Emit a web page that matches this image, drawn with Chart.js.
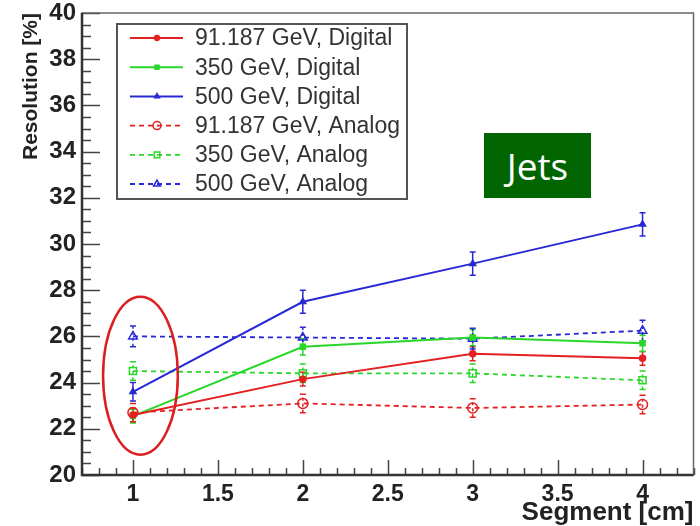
<!DOCTYPE html>
<html>
<head>
<meta charset="utf-8">
<script src="https://cdn.jsdelivr.net/npm/chart.js@4.4.1/dist/chart.umd.min.js"></script>
<style>
  html, body { margin: 0; padding: 0; background: #fff; }
  #wrap { position: relative; width: 700px; height: 526px; }
  #jets {
    position: absolute; left: 484px; top: 133px; width: 107px; height: 65px;
    background: #006400; color: #fff; font: 37px "Open Sans", sans-serif;
    display: flex; align-items: center; justify-content: center;
  }
</style>
</head>
<body>
<div id="wrap">
  <canvas id="chart1" width="700" height="526"></canvas>
  <div id="jets">Jets</div>
</div>
<script>
// segment length [cm]
const segments = [1, 2, 3, 4]

// resolution [%]
const red_digital   = [22.6, 24.15, 25.25, 25.05]
const green_digital = [22.55, 25.55, 25.95, 25.7]
const blue_digital  = [23.6, 27.5, 29.15, 30.85]
const red_analog    = [22.7, 23.1, 22.9, 23.05]
const green_analog  = [24.5, 24.4, 24.4, 24.1]
const blue_analog   = [26.0, 25.95, 25.9, 26.25]

// error bars
const red_digital_err   = [0.3, 0.3, 0.3, 0.3]
const green_digital_err = [0.3, 0.35, 0.35, 0.35]
const blue_digital_err  = [0.4, 0.5, 0.5, 0.5]
const red_analog_err    = [0.4, 0.4, 0.4, 0.4]
const green_analog_err  = [0.4, 0.4, 0.4, 0.4]
const blue_analog_err   = [0.45, 0.45, 0.45, 0.45]

const xTicks = [1, 1.5, 2, 2.5, 3, 3.5, 4]
const yTicks = [20, 22, 24, 26, 28, 30, 32, 34, 36, 38, 40]

// the red ring round segment 1 (centre, half widths, in axis units)
const ringX = 1.044, ringY = 24.3, ringRX = 0.22, ringRY = 3.42

const RED = 'rgb(228,32,32)', GREEN = 'rgb(40,215,40)', BLUE = 'rgb(40,40,215)'

function series(label, values, errors, color, style, radius, analog){
  return {
    label: label,
    data: values.map((v, i) => ({x: segments[i], y: v})),
    errors: errors,
    borderColor: color,
    borderWidth: analog ? 1.8 : 2,
    borderDash: analog ? [5, 4] : [],
    pointStyle: style,
    pointRadius: radius,
    pointBorderWidth: 1.5,
    pointBorderColor: color,
    pointBackgroundColor: analog ? 'rgba(0,0,0,0)' : color,
    analog: analog,
    tension: 0
  }
}

const datasets = [
  series('91.187 GeV, Digital', red_digital, red_digital_err, RED, 'circle', 3, false),
  series('350 GeV, Digital', green_digital, green_digital_err, GREEN, 'rect', 3.5, false),
  series('500 GeV, Digital', blue_digital, blue_digital_err, BLUE, 'triangle', 3.5, false),
  series('91.187 GeV, Analog', red_analog, red_analog_err, RED, 'circle', 5, true),
  series('350 GeV, Analog', green_analog, green_analog_err, GREEN, 'rect', 5, true),
  series('500 GeV, Analog', blue_analog, blue_analog_err, BLUE, 'triangle', 5, true)
]

// frame and inward ticks, ROOT style
const frame = {
  id: 'frame',
  beforeDatasetsDraw(chart){
    const {ctx, chartArea: a, scales: {x, y}} = chart
    ctx.save()
    ctx.strokeStyle = '#444'
    ctx.lineWidth = 1.5
    ctx.beginPath()
    for (let i = 40; i <= 80; i++){
      const p = Math.round(y.getPixelForValue(i / 2)) + 0.5
      const len = i % 4 == 0 ? 18 : 9
      ctx.moveTo(a.left, p); ctx.lineTo(a.left + len, p)
    }
    for (let i = 7; i <= 43; i++){
      const p = Math.round(x.getPixelForValue(i / 10)) + 0.5
      const len = i % 5 == 0 ? 15 : 7
      ctx.moveTo(p, a.bottom); ctx.lineTo(p, a.bottom - len)
    }
    ctx.stroke()

    // error bars
    chart.data.datasets.forEach((ds, k) => {
      ctx.strokeStyle = ds.borderColor
      ctx.lineWidth = 1.5
      ds.data.forEach((pt, j) => {
        const px = x.getPixelForValue(pt.x)
        const y1 = y.getPixelForValue(pt.y - ds.errors[j])
        const y2 = y.getPixelForValue(pt.y + ds.errors[j])
        ctx.setLineDash(ds.analog ? [3, 3] : [])
        ctx.beginPath()
        ctx.moveTo(px, y1); ctx.lineTo(px, y2)
        ctx.stroke()
        ctx.setLineDash([])
        ctx.beginPath()
        ctx.moveTo(px - 3, y1); ctx.lineTo(px + 3, y1)
        ctx.moveTo(px - 3, y2); ctx.lineTo(px + 3, y2)
        ctx.stroke()
      })
    })
    ctx.restore()
  },
  afterDatasetsDraw(chart){
    const {ctx, chartArea: a, scales: {x, y}} = chart
    ctx.save()
    // ring
    const cx = x.getPixelForValue(ringX), cy = y.getPixelForValue(ringY)
    const rx = x.getPixelForValue(ringX + ringRX) - cx
    const ry = cy - y.getPixelForValue(ringY + ringRY)
    ctx.strokeStyle = 'rgb(220,30,30)'
    ctx.lineWidth = 2.5
    ctx.beginPath()
    ctx.ellipse(cx, cy, rx, ry, 0, 0, Math.PI * 2)
    ctx.stroke()

    // axes frame
    ctx.strokeStyle = '#666'
    ctx.lineWidth = 1.5
    ctx.strokeRect(a.left, a.top, a.right - a.left, a.bottom - a.top)
    ctx.strokeStyle = '#333'
    ctx.lineWidth = 2.5
    ctx.beginPath()
    ctx.moveTo(a.left, a.top); ctx.lineTo(a.left, a.bottom); ctx.lineTo(a.right, a.bottom)
    ctx.stroke()

    // legend box
    const bx = 117, by = 24, bw = 290, bh = 175
    ctx.fillStyle = '#fff'
    ctx.fillRect(bx, by, bw, bh)
    ctx.strokeStyle = '#555'
    ctx.lineWidth = 2
    ctx.strokeRect(bx, by, bw, bh)
    ctx.font = '23px "Liberation Sans", Arial, sans-serif'
    ctx.textBaseline = 'middle'
    chart.data.datasets.forEach((ds, k) => {
      const ly = by + 14 + k * 29.2
      ctx.strokeStyle = ds.borderColor
      ctx.lineWidth = ds.borderWidth
      ctx.setLineDash(ds.borderDash)
      ctx.beginPath()
      ctx.moveTo(bx + 13, ly); ctx.lineTo(bx + 66, ly)
      ctx.stroke()
      ctx.setLineDash([])
      ctx.fillStyle = ds.pointBackgroundColor
      ctx.lineWidth = ds.pointBorderWidth
      Chart.helpers.drawPoint(ctx, {pointStyle: ds.pointStyle, radius: ds.pointRadius * 0.8, rotation: 0, borderWidth: ds.pointBorderWidth}, bx + 40, ly)
      ctx.fillStyle = '#333'
      ctx.fillText(ds.label, bx + 78, ly + 1)
    })
    ctx.restore()
  }
}

Chart.defaults.font.family = '"Liberation Sans", Arial, sans-serif'
Chart.defaults.color = '#222'

const config = {
  type: 'line',
  data: {datasets: datasets},
  options: {
    responsive: false,
    animation: false,
    layout: {padding: {top: 13, right: 3, left: 0, bottom: 0}},
    plugins: {legend: {display: false}, tooltip: {enabled: false}},
    scales: {
      x: {
        type: 'linear', min: 0.7, max: 4.3,
        afterBuildTicks: s => { s.ticks = xTicks.map(v => ({value: v})) },
        afterFit: s => { s.height = 51 },
        grid: {display: false, drawTicks: true, tickLength: 8, tickColor: 'rgba(0,0,0,0)'},
        border: {display: false},
        ticks: {padding: 0, font: {size: 23, weight: 'bold', lineHeight: 1}, callback: v => String(v), maxRotation: 0},
        title: {display: true, text: 'Segment [cm]', align: 'end', font: {size: 26, weight: 'bold', lineHeight: 1}, padding: {top: 0, bottom: 0}}
      },
      y: {
        min: 20, max: 40,
        afterBuildTicks: s => { s.ticks = yTicks.map(v => ({value: v})) },
        afterFit: s => { s.width = 82 },
        grid: {display: false, drawTicks: true, tickLength: 6, tickColor: 'rgba(0,0,0,0)'},
        border: {display: false},
        ticks: {padding: 0, font: {size: 24, weight: 'bold', lineHeight: 1}},
        title: {display: true, text: 'Resolution [%]', align: 'end', font: {size: 21, weight: 'bold', lineHeight: 1}, padding: {top: 21, bottom: 0}}
      }
    }
  },
  plugins: [frame]
}

const myChart = new Chart(document.getElementById('chart1'), config)
</script>
</body>
</html>
